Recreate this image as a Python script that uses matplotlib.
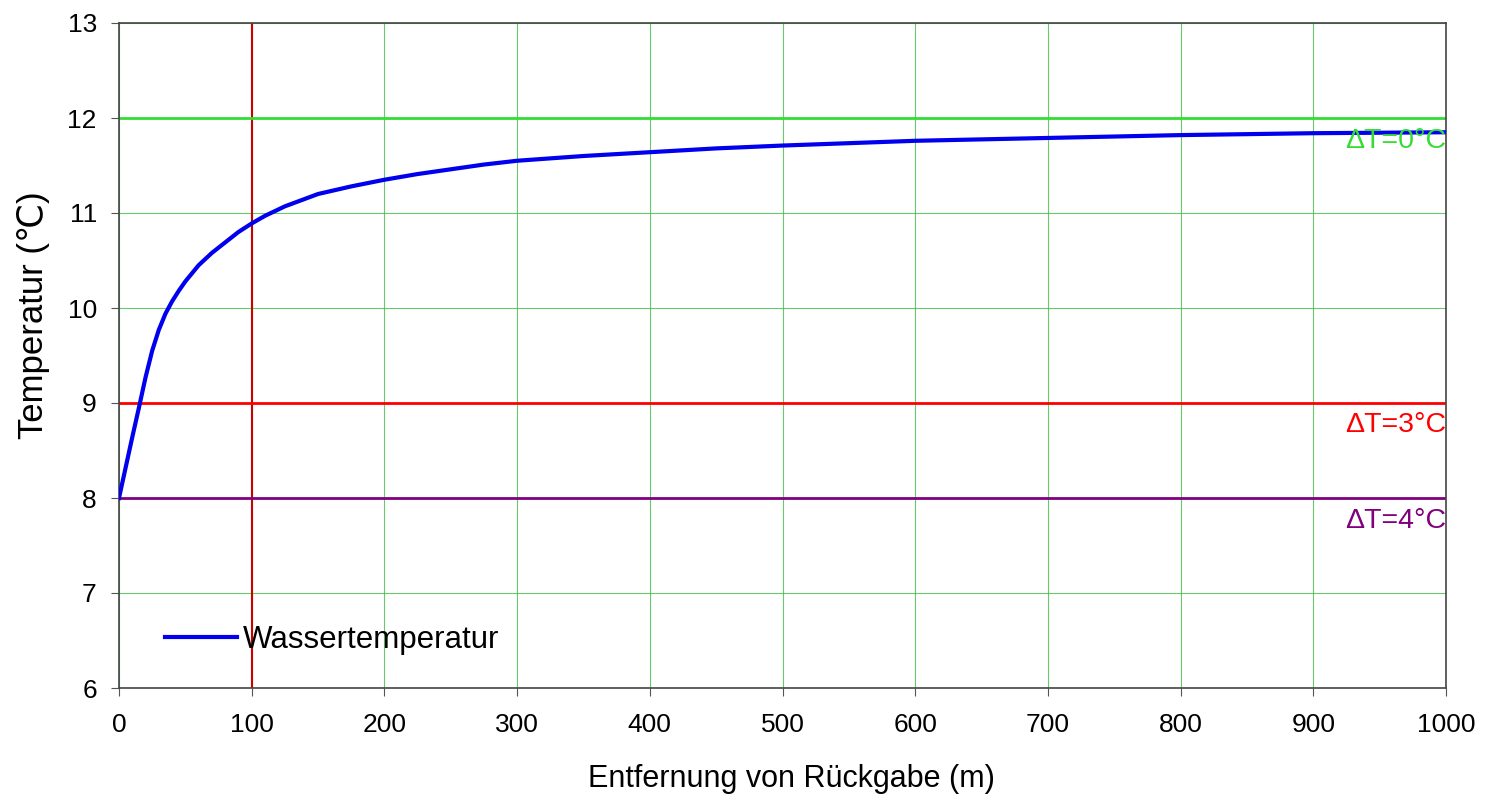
import matplotlib
matplotlib.use("Agg")
import matplotlib.pyplot as plt

plt.rcParams['font.family'] = ['Liberation Sans', 'DejaVu Sans']

# Wassertemperatur entlang der Entfernung von der Rueckgabe
distance = [0, 5, 10, 15, 20, 25, 30, 35, 40, 45, 50, 60, 70, 80, 90, 100, 110, 125,
            150, 175, 200, 225, 250, 275, 300, 350, 400, 450, 500, 600, 700, 800,
            900, 1000]
temperature = [8.0, 8.32, 8.64, 8.95, 9.27, 9.55, 9.77, 9.94, 10.07, 10.18, 10.28,
               10.45, 10.58, 10.69, 10.8, 10.89, 10.97, 11.07, 11.2, 11.28, 11.35,
               11.41, 11.46, 11.51, 11.55, 11.6, 11.64, 11.68, 11.71, 11.76, 11.79,
               11.82, 11.84, 11.85]

# Referenzlinien
ref_levels = [12, 9, 8]
ref_labels = ['ΔT=0°C', 'ΔT=3°C', 'ΔT=4°C']
ref_colors = ['#33dd33', '#ff0000', '#800080']
marker_distance = 100

fig = plt.figure(figsize=(14.85, 8.08), dpi=100)
ax = fig.add_axes([119 / 1485, 1 - 688 / 808, (1446 - 119) / 1485, (688 - 23) / 808])

ax.set_xlim(0, 1000)
ax.set_ylim(6, 13)
ax.set_xticks(range(0, 1001, 100))
ax.set_yticks(range(6, 14))
ax.grid(True, color='#44bb44', linewidth=0.8, alpha=0.8)

ax.axvline(marker_distance, color='#cc0000', linewidth=1.5, zorder=2)
for lvl, lab, col in zip(ref_levels, ref_labels, ref_colors):
    ax.axhline(lvl, color=col, linewidth=2, zorder=2)
    ax.text(1000, lvl - 0.1, lab, color=col, fontsize=20.5, ha='right', va='top', zorder=4)

ax.plot(distance, temperature, color='#0000ee', linewidth=3, label='Wassertemperatur',
        zorder=3, solid_joinstyle='round')

for sp in ax.spines.values():
    sp.set_color('#444444')
    sp.set_linewidth(1.2)
ax.tick_params(labelsize=19, length=6, color='#555555')
ax.tick_params(axis='x', pad=12)
ax.tick_params(axis='y', pad=10)

ax.set_xlabel('Entfernung von Rückgabe (m)', fontsize=22)
ax.set_ylabel('Temperatur (℃)', fontsize=25)
ax.xaxis.set_label_coords(0.507, -0.115)
ax.yaxis.set_label_coords(-0.052, 0.56)

ax.legend(loc='center left', bbox_to_anchor=((165 - 119) / 1327, (688 - 640) / 665),
          frameon=False, fontsize=22.5, borderpad=0, borderaxespad=0,
          handlelength=2.3, handletextpad=0.2)

fig.savefig('out.png', dpi=100)
